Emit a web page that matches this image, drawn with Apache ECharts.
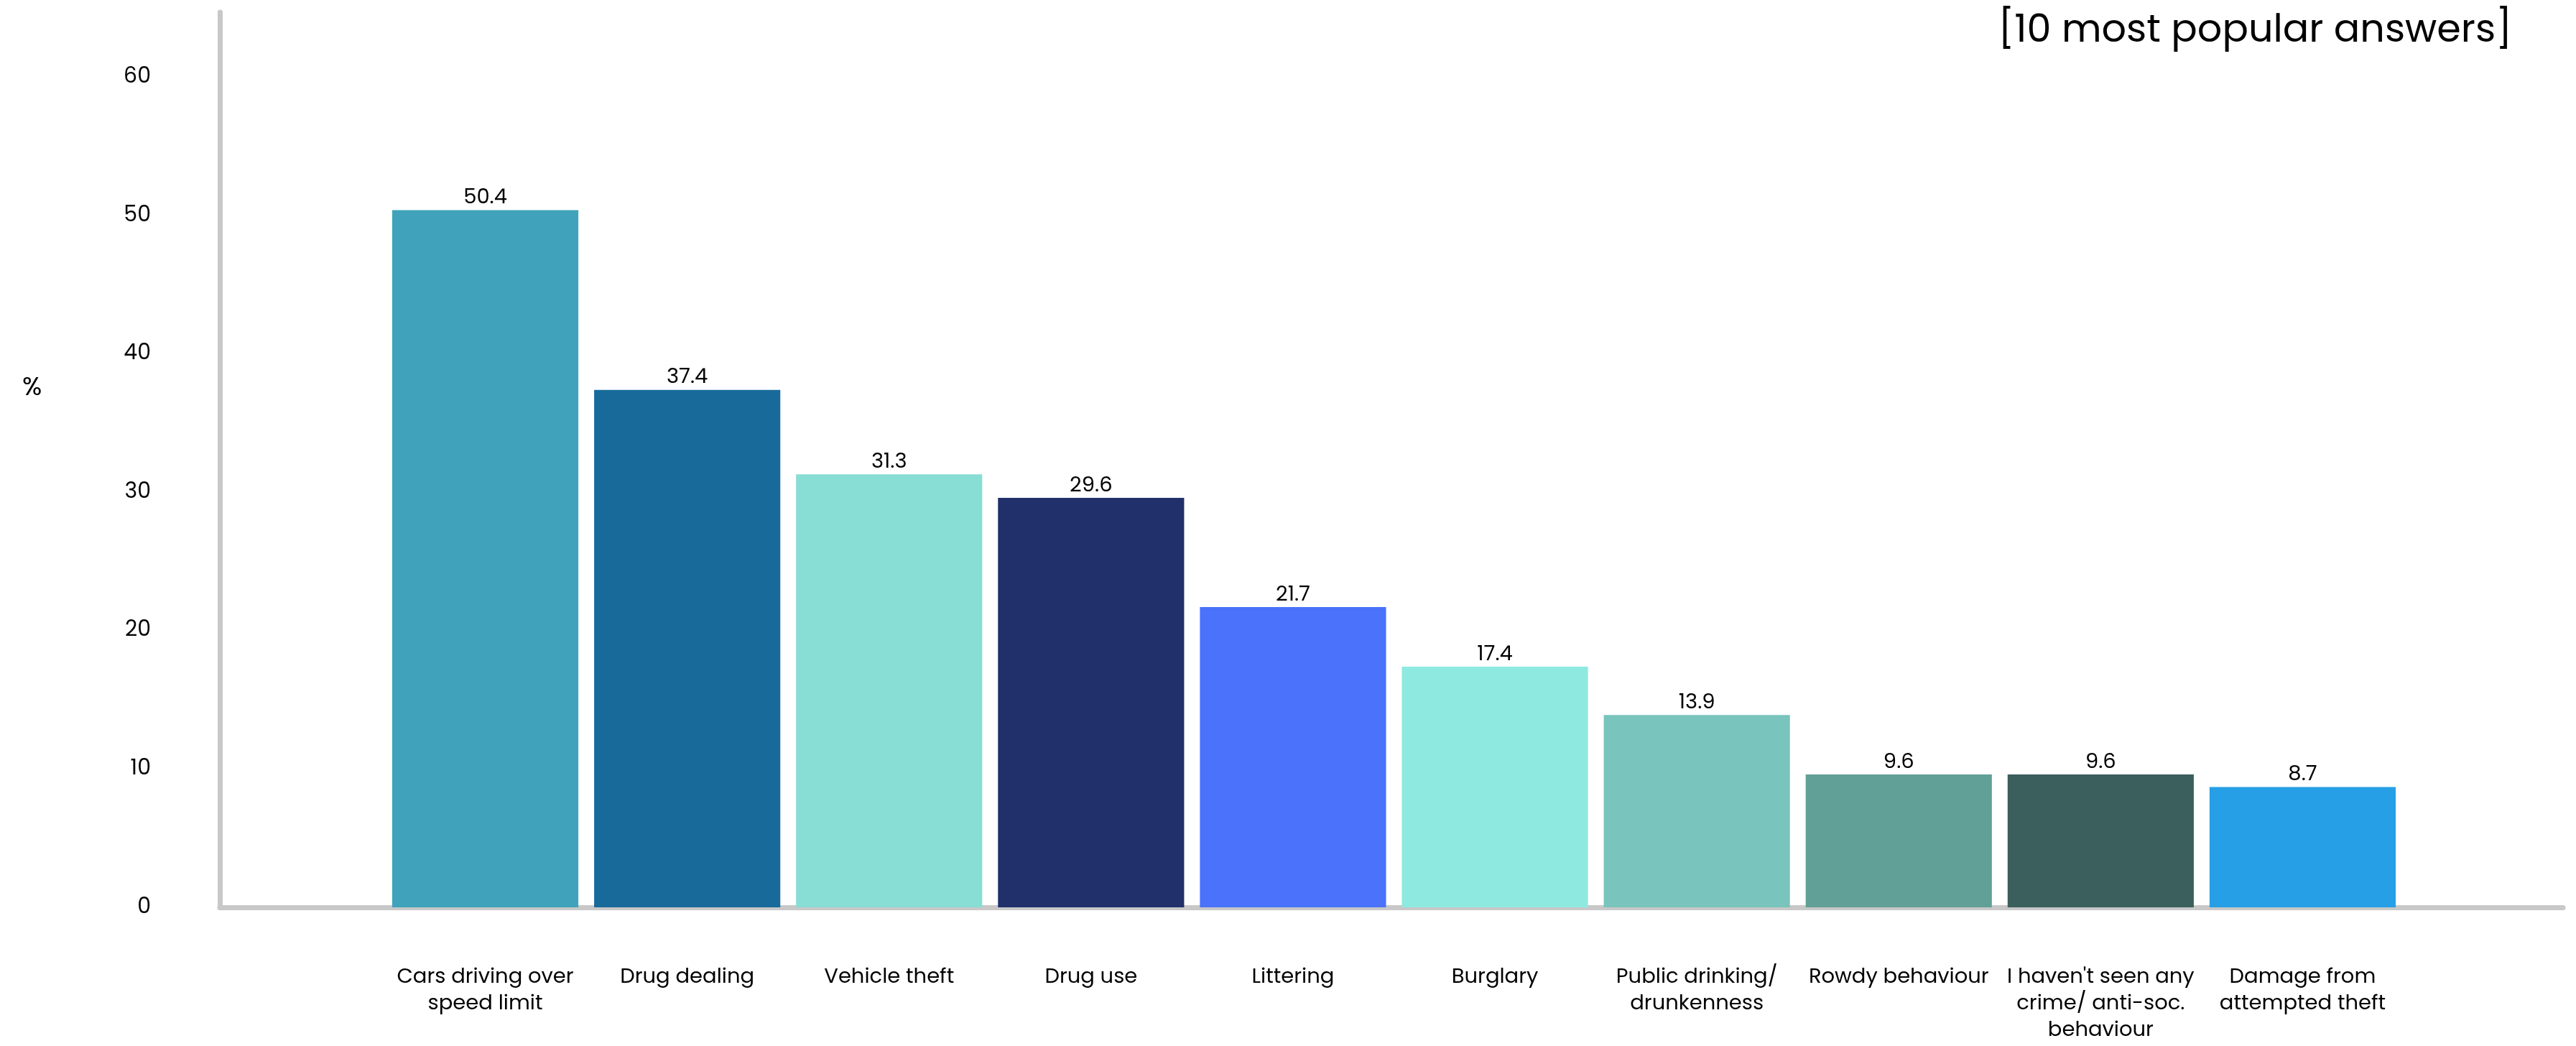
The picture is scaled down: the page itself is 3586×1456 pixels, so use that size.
<!DOCTYPE html>
<html>
<head>
<meta charset="utf-8">
<script src="https://cdn.jsdelivr.net/npm/echarts@6/dist/echarts.min.js"></script>
<style>
html,body{margin:0;padding:0;background:#fff;}
#chart{width:3586px;height:1456px;}
</style>
</head>
<body>
<div id="chart"></div>
<script>
const categories = [
  "Cars driving over\nspeed limit",
  "Drug dealing",
  "Vehicle theft",
  "Drug use",
  "Littering",
  "Burglary",
  "Public drinking/\ndrunkenness",
  "Rowdy behaviour",
  "I haven't seen any\ncrime/ anti-soc.\nbehaviour",
  "Damage from\nattempted theft"
];
const values = [50.4, 37.4, 31.3, 29.6, 21.7, 17.4, 13.9, 9.6, 9.6, 8.7];
const barColors = ["#40a3bb", "#186a9b", "#88ddd4", "#21306a", "#4a72fa", "#8ee9e0", "#79c4bc", "#61a096", "#3b5f5c", "#269fe6"];
const yTicks = [0, 10, 20, 30, 40, 50, 60];

const FONT = 'Poppins, "Open Sans", sans-serif';
const chart = echarts.init(document.getElementById('chart'), null, {renderer: 'canvas'});
const yMax = 64.7;

chart.setOption({
  backgroundColor: '#ffffff',
  animation: false,
  title: [
    {
      text: '[10 most popular answers]',
      right: 84, top: 12,
      textStyle: {fontFamily: FONT, fontSize: 54, fontWeight: 'normal', color: '#000'}
    },
    {
      text: '%',
      left: 26, top: 518,
      textStyle: {fontFamily: FONT, fontSize: 36, fontWeight: 'normal', color: '#000'}
    }
  ],
  grid: [
    {left: 306, right: 18, top: 17, bottom: 193},
    {left: 535, right: 240, top: 17, bottom: 193}
  ],
  xAxis: [
    {
      gridIndex: 0, type: 'value', min: 0, max: 1,
      axisLine: {show: true, lineStyle: {color: '#c8c8c8', width: 7}},
      axisTick: {show: false}, axisLabel: {show: false}, splitLine: {show: false}
    },
    {
      gridIndex: 1, type: 'category', data: categories,
      axisLine: {show: false}, axisTick: {show: false}, splitLine: {show: false},
      axisLabel: {
        interval: 0, margin: 79, color: '#000',
        fontFamily: FONT, fontSize: 29, lineHeight: 37, align: 'center'
      }
    }
  ],
  yAxis: [
    {
      gridIndex: 0, type: 'value', min: 0, max: yMax, interval: 10,
      axisLine: {show: true, lineStyle: {color: '#c8c8c8', width: 7}},
      axisTick: {show: false}, splitLine: {show: false},
      axisLabel: {
        showMaxLabel: false, margin: 96, color: '#000',
        fontFamily: FONT, fontSize: 30,
        formatter: v => (yTicks.indexOf(v) >= 0 ? String(v) : '')
      }
    },
    {
      gridIndex: 1, type: 'value', min: 0, max: yMax,
      axisLine: {show: false}, axisTick: {show: false},
      axisLabel: {show: false}, splitLine: {show: false}
    }
  ],
  series: [{
    type: 'bar',
    xAxisIndex: 1, yAxisIndex: 1,
    barCategoryGap: '7.8%',
    data: values.map((v, i) => ({value: v, itemStyle: {color: barColors[i]}})),
    label: {
      show: true, position: 'top', distance: 2, color: '#000',
      fontFamily: FONT, fontSize: 29,
      formatter: p => p.value.toFixed(1)
    }
  }]
});
</script>
</body>
</html>
